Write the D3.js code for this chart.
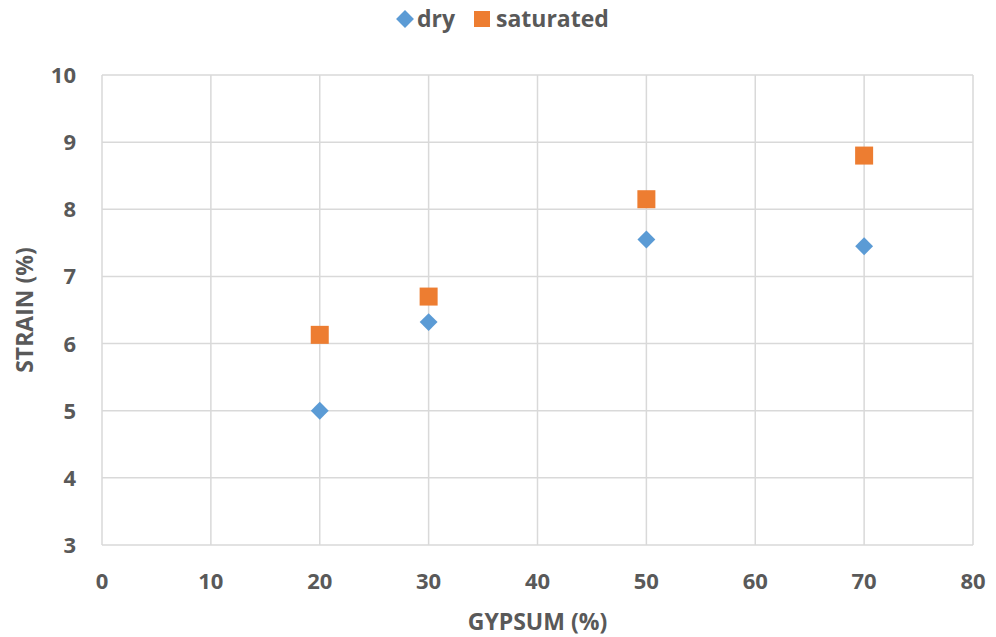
<!DOCTYPE html>
<html>
<head>
<meta charset="utf-8">
<script src="https://cdn.jsdelivr.net/npm/d3@7"></script>
<style>
  body { margin: 0; background: #fff; }
  text { font-family: "Open Sans", "Liberation Sans", sans-serif; font-weight: bold; fill: #595959; }
</style>
</head>
<body>
<div id="chart"></div>
<script>
const gypsum = [20, 30, 50, 70];
const dry = [5.0, 6.32, 7.55, 7.45];
const saturated = [6.13, 6.7, 8.15, 8.8];
const xTicks = [0, 10, 20, 30, 40, 50, 60, 70, 80];
const yTicks = [3, 4, 5, 6, 7, 8, 9, 10];

const width = 996, height = 637,
    margin = ({ top: 75, right: 23, bottom: 92, left: 102 });

const svg = d3.select("#chart")
    .append("svg")
    .attr("width", width)
    .attr("height", height);

const x = d3.scaleLinear()
    .domain([0, 80])
    .range([margin.left, width - margin.right]);

const y = d3.scaleLinear()
    .domain([3, 10])
    .range([height - margin.bottom, margin.top]);

// gridlines
svg.append("g")
    .selectAll("line")
    .data(yTicks)
    .join("line")
    .attr("x1", x(0)).attr("x2", x(80))
    .attr("y1", d => y(d)).attr("y2", d => y(d))
    .attr("stroke", "#d9d9d9").attr("stroke-width", 1.5);

svg.append("g")
    .selectAll("line")
    .data(xTicks)
    .join("line")
    .attr("x1", d => x(d)).attr("x2", d => x(d))
    .attr("y1", y(3)).attr("y2", y(10))
    .attr("stroke", "#d9d9d9").attr("stroke-width", 1.5);

// tick labels
svg.append("g")
    .selectAll("text")
    .data(xTicks)
    .join("text")
    .attr("x", d => x(d))
    .attr("y", y(3) + 44)
    .attr("text-anchor", "middle")
    .attr("font-size", 22)
    .text(d => d);

svg.append("g")
    .selectAll("text")
    .data(yTicks)
    .join("text")
    .attr("x", x(0) - 26)
    .attr("y", d => y(d) + 8)
    .attr("text-anchor", "end")
    .attr("font-size", 22)
    .text(d => d);

// axis titles
svg.append("text")
    .attr("x", (x(0) + x(80)) / 2)
    .attr("y", 630)
    .attr("text-anchor", "middle")
    .attr("font-size", 23)
    .text("GYPSUM (%)");

svg.append("text")
    .attr("transform", `translate(33,${(y(3) + y(10)) / 2}) rotate(-90)`)
    .attr("text-anchor", "middle")
    .attr("font-size", 23)
    .text("STRAIN (%)");

// points
const diamond = d3.symbol().type(d3.symbolSquare).size(160);
svg.append("g")
    .selectAll("path")
    .data(gypsum)
    .join("path")
    .attr("d", diamond)
    .attr("transform", (d, i) => `translate(${x(d)},${y(dry[i])}) rotate(45)`)
    .attr("fill", "#5b9bd5");

svg.append("g")
    .selectAll("rect")
    .data(gypsum)
    .join("rect")
    .attr("x", d => x(d) - 9)
    .attr("y", (d, i) => y(saturated[i]) - 9)
    .attr("width", 18)
    .attr("height", 18)
    .attr("fill", "#ed7d31");

// legend
const legend = svg.append("g");
legend.append("path")
    .attr("d", diamond)
    .attr("transform", "translate(405,19) rotate(45)")
    .attr("fill", "#5b9bd5");
legend.append("text")
    .attr("x", 417).attr("y", 27)
    .attr("font-size", 23)
    .text("dry");
legend.append("rect")
    .attr("x", 474).attr("y", 11)
    .attr("width", 16).attr("height", 16)
    .attr("fill", "#ed7d31");
legend.append("text")
    .attr("x", 496).attr("y", 27)
    .attr("font-size", 23)
    .text("saturated");
</script>
</body>
</html>
